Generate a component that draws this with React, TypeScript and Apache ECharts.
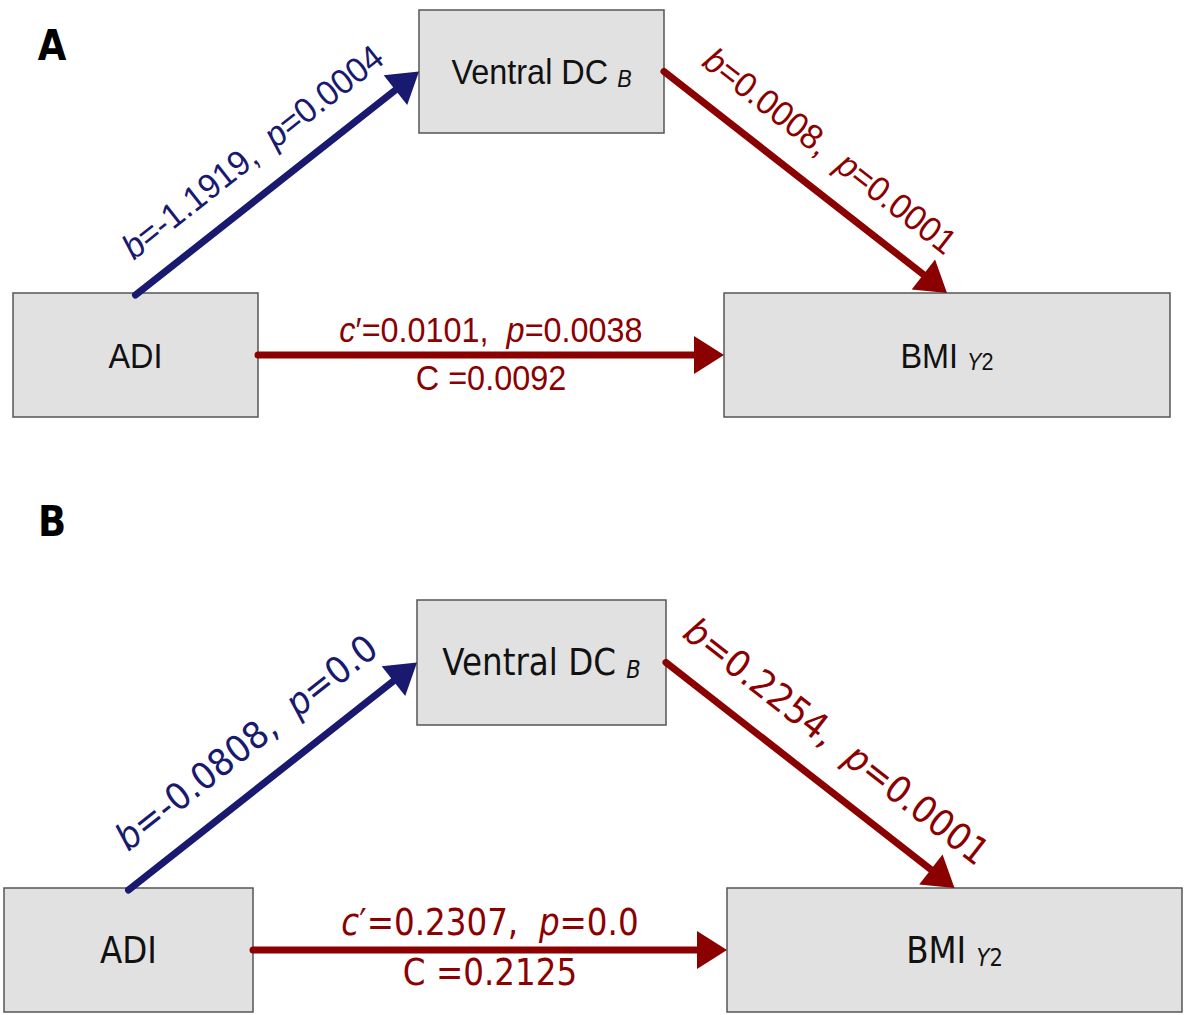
import React, { useEffect, useRef } from 'react';
import * as echarts from 'echarts';

// ---- data ----
const panelLetters = ['A', 'B'];
const nodeNames = ['ADI', 'Ventral DC', 'BMI'];
const nodeSubItalic = ['', 'B', 'Y'];
const nodeSubPlain = ['', '', '2'];
const aPathB = ['-1.1919', '-0.0808'];
const aPathP = ['0.0004', '0.0'];
const bPathB = ['0.0008', '0.2254'];
const bPathP = ['0.0001', '0.0001'];
const directC = ['0.0101', '0.2307'];
const directP = ['0.0038', '0.0'];
const totalC = ['0.0092', '0.2125'];

// ---- layout / style ----
const BLUE = '#191970';
const RED = '#8b0000';
const layouts = [
  {
    font: 'Liberation Sans', fs: 36, sx: 0.9, subFs: 24,
    letter: [52, 45],
    boxes: [[13, 293, 245, 124], [419, 10, 245, 123], [724, 293, 446, 124]],
    rotOff: 40, rotFs: 35, rotSx: 0.96, hAbove: 26, hBelow: 22,
  },
  {
    font: 'DejaVu Sans', fs: 37, sx: 0.88, subFs: 24,
    letter: [52, 521],
    boxes: [[4, 888, 249, 124], [417, 600, 249, 125], [727, 888, 455, 124]],
    rotOff: 43, rotFs: 37, rotSx: 0.93, hAbove: 28, hBelow: 22,
  },
];
const HEAD_LEN = 30;
const HEAD_HW = 19;
const SHAFT_W = 7;

function richFor(font: string, fs: number, color: string) {
  return {
    n: { fontFamily: font, fontSize: fs, fill: color },
    i: { fontFamily: font, fontSize: fs, fill: color, fontStyle: 'italic' },
  };
}

function arrow(p0: number[], p1: number[], color: string) {
  const dx = p1[0] - p0[0];
  const dy = p1[1] - p0[1];
  const len = Math.hypot(dx, dy);
  const ux = dx / len, uy = dy / len;
  const bx = p1[0] - ux * HEAD_LEN, by = p1[1] - uy * HEAD_LEN;
  const px = -uy, py = ux;
  return [
    {
      type: 'line', z: 5,
      shape: { x1: p0[0], y1: p0[1], x2: bx + ux * 2, y2: by + uy * 2 },
      style: { stroke: color, lineWidth: SHAFT_W, lineCap: 'round' },
    },
    {
      type: 'polygon', z: 6,
      shape: { points: [[p1[0], p1[1]], [bx + px * HEAD_HW, by + py * HEAD_HW], [bx - px * HEAD_HW, by - py * HEAD_HW]] },
      style: { fill: color },
    },
  ];
}

function rotLabel(p0: number[], p1: number[], text: string, color: string, L: any) {
  const dx = p1[0] - p0[0];
  const dy = p1[1] - p0[1];
  const len = Math.hypot(dx, dy);
  const th = Math.atan2(-dy, dx);
  const mx = p0[0] + dx / 2, my = p0[1] + dy / 2;
  const nx = -Math.sin(th), ny = -Math.cos(th);
  return {
    type: 'text', z: 10,
    x: mx + nx * L.rotOff, y: my + ny * L.rotOff,
    rotation: th, scaleX: L.rotSx,
    style: {
      text, rich: richFor(L.font, L.rotFs, color),
      fontFamily: L.font, fontSize: L.rotFs, fill: color,
      align: 'center', verticalAlign: 'middle',
    },
  };
}

function build() {
  const els: any[] = [];
  layouts.forEach((L, pi) => {
    // panel letter
    els.push({
      type: 'text', x: L.letter[0], y: L.letter[1], scaleX: 0.88, z: 10,
      style: {
        text: panelLetters[pi], fontFamily: 'DejaVu Sans', fontWeight: 'bold', fontSize: 42,
        fill: '#000', align: 'center', verticalAlign: 'middle',
      },
    });
    // boxes
    L.boxes.forEach((b, ni) => {
      els.push({
        type: 'rect', z: 1,
        shape: { x: b[0], y: b[1], width: b[2], height: b[3] },
        style: { fill: '#e1e1e1', stroke: '#555555', lineWidth: 1.5 },
      });
      let t = '{m|' + nodeNames[ni] + (nodeSubItalic[ni] || nodeSubPlain[ni] ? ' ' : '') + '}';
      if (nodeSubItalic[ni]) t += '{si|' + nodeSubItalic[ni] + '}';
      if (nodeSubPlain[ni]) t += '{sp|' + nodeSubPlain[ni] + '}';
      els.push({
        type: 'text', z: 10,
        x: b[0] + b[2] / 2, y: b[1] + b[3] / 2, scaleX: L.sx,
        style: {
          text: t,
          fontFamily: L.font, fontSize: L.fs, fill: '#111',
          align: 'center', verticalAlign: 'middle',
          rich: {
            m: { fontFamily: L.font, fontSize: L.fs, fill: '#111', lineHeight: L.fs * 1.05 },
            si: { fontFamily: L.font, fontSize: L.subFs, fill: '#111', fontStyle: 'italic', lineHeight: L.subFs, verticalAlign: 'bottom' },
            sp: { fontFamily: L.font, fontSize: L.subFs, fill: '#111', lineHeight: L.subFs, verticalAlign: 'bottom' },
          },
        },
      });
    });
    const [adi, vdc, bmi] = L.boxes;
    const e1a = [adi[0] + adi[2] / 2, adi[1] + 2];
    const e1b = [vdc[0], vdc[1] + vdc[3] / 2];
    const e2a = [vdc[0] + vdc[2], vdc[1] + vdc[3] / 2];
    const e2b = [bmi[0] + bmi[2] / 2, bmi[1]];
    const e3a = [adi[0] + adi[2], adi[1] + adi[3] / 2];
    const e3b = [bmi[0], bmi[1] + bmi[3] / 2];
    els.push(...arrow(e1a, e1b, BLUE));
    els.push(...arrow(e2a, e2b, RED));
    els.push(...arrow(e3a, e3b, RED));
    els.push(rotLabel(e1a, e1b, '{i|b}{n|=' + aPathB[pi] + ',  }{i|p}{n|=' + aPathP[pi] + '}', BLUE, L));
    els.push(rotLabel(e2a, e2b, '{i|b}{n|=' + bPathB[pi] + ',  }{i|p}{n|=' + bPathP[pi] + '}', RED, L));
    const mx = (e3a[0] + e3b[0]) / 2;
    const my = e3a[1];
    els.push({
      type: 'text', z: 10, x: mx, y: my - L.hAbove, scaleX: L.sx,
      style: {
        text: '{i|c}{n|\u2032=' + directC[pi] + ',  }{i|p}{n|=' + directP[pi] + '}',
        rich: richFor(L.font, L.fs, RED), fontFamily: L.font, fontSize: L.fs, fill: RED,
        align: 'center', verticalAlign: 'middle',
      },
    });
    els.push({
      type: 'text', z: 10, x: mx, y: my + L.hBelow, scaleX: L.sx,
      style: {
        text: '{n|C =' + totalC[pi] + '}',
        rich: richFor(L.font, L.fs, RED), fontFamily: L.font, fontSize: L.fs, fill: RED,
        align: 'center', verticalAlign: 'middle',
      },
    });
  });
  return els;
}

export default function App() {
  const ref = useRef<HTMLDivElement>(null);
  useEffect(() => {
    document.body.style.margin = '0';
    const chart = echarts.init(ref.current as HTMLDivElement, null, { renderer: 'svg' });
    chart.setOption({
      animation: false,
      backgroundColor: '#ffffff',
      graphic: { elements: build() },
    });
    return () => chart.dispose();
  }, []);
  return <div ref={ref} style={{ width: 1184, height: 1015 }} />;
}
